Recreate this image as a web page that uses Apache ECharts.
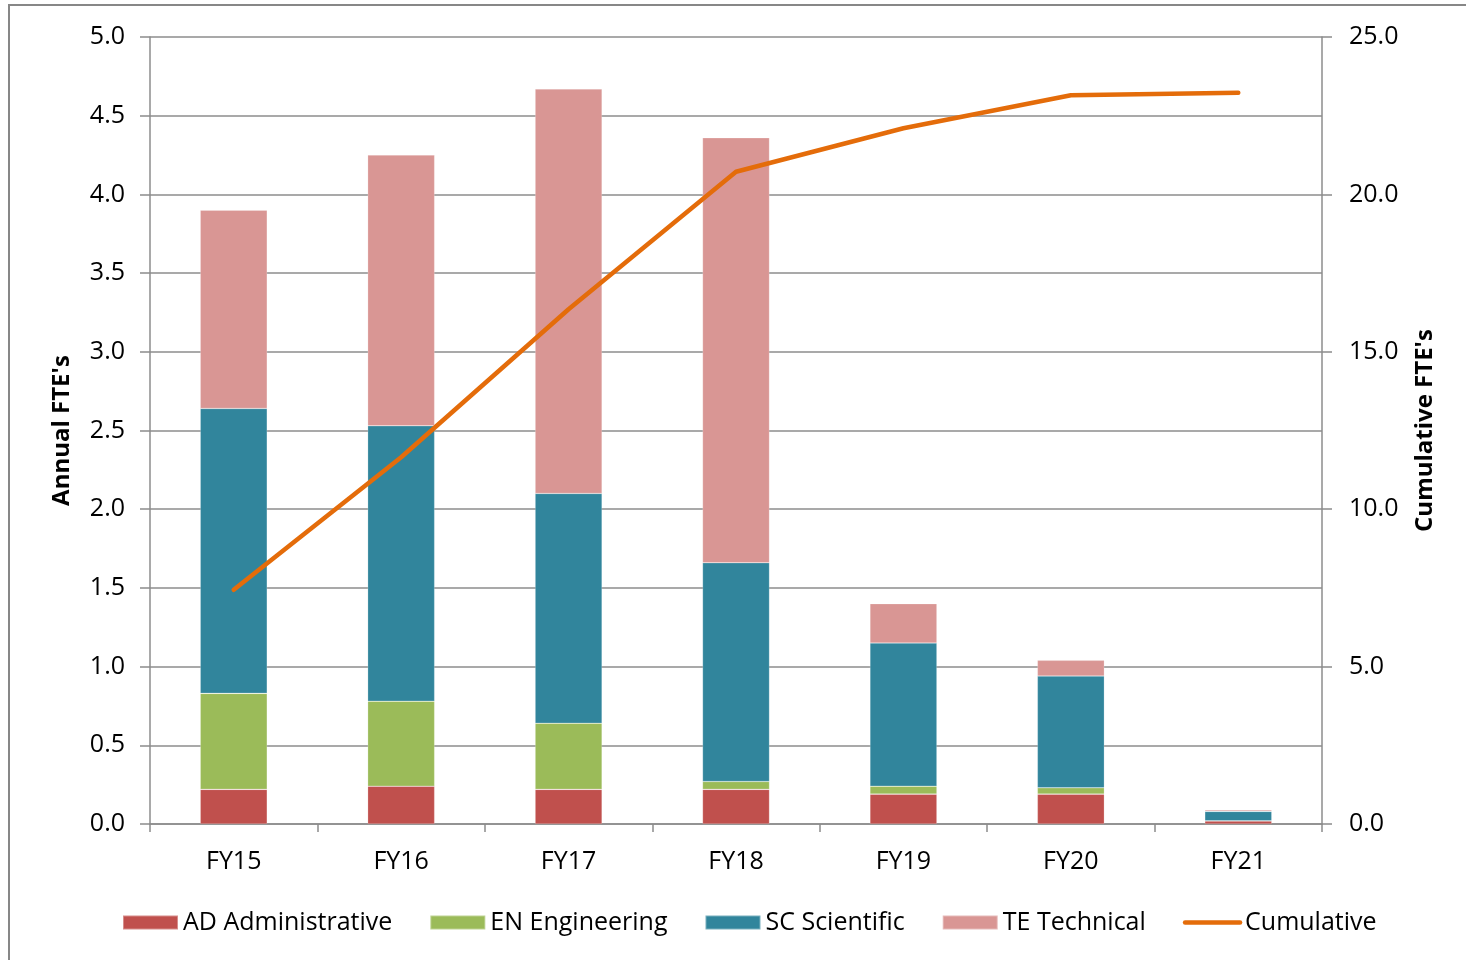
<!DOCTYPE html>
<html>
<head>
<meta charset="utf-8">
<script src="https://cdn.jsdelivr.net/npm/echarts@6/dist/echarts.min.js"></script>
<style>
  html, body { margin: 0; padding: 0; background: #fff; }
  #chart { width: 1466px; height: 960px; }
</style>
</head>
<body>
<div id="chart"></div>
<script>
// Fiscal years on the category axis
const years = ['FY15', 'FY16', 'FY17', 'FY18', 'FY19', 'FY20', 'FY21'];

// Annual FTE's by labour category (stacked)
const adminFTE = [0.22, 0.24, 0.22, 0.22, 0.19, 0.19, 0.02];
const engFTE   = [0.61, 0.54, 0.42, 0.05, 0.05, 0.04, 0.00];
const sciFTE   = [1.81, 1.75, 1.46, 1.39, 0.91, 0.71, 0.06];
const techFTE  = [1.26, 1.72, 2.57, 2.70, 0.25, 0.10, 0.01];

// Running total on the secondary axis
const cumulativeFTE = [7.44, 11.65, 16.35, 20.72, 22.10, 23.15, 23.23];

const FONT = '"Open Sans", Lato, sans-serif';
const AXIS_GRAY = '#8c8c8c';
const LINE_ORANGE = '#E46C0A';

const chart = echarts.init(document.getElementById('chart'), null, { renderer: 'canvas' });

function barSeries(name, data, color) {
  return {
    name: name,
    type: 'bar',
    stack: 'annual',
    yAxisIndex: 0,
    barWidth: 67,
    data: data,
    itemStyle: { color: color, borderColor: 'rgba(255,255,255,0.35)', borderWidth: 0.6 },
    emphasis: { disabled: true }
  };
}

chart.setOption({
  animation: false,
  backgroundColor: '#ffffff',
  textStyle: { fontFamily: FONT },
  graphic: [{
    type: 'rect',
    shape: { x: 9, y: 5, width: 1500, height: 1000 },
    style: { fill: 'none', stroke: '#878787', lineWidth: 2 },
    silent: true,
    z: -1
  }],
  grid: { left: 150, right: 144, top: 37, bottom: 136 },
  legend: {
    left: 117,
    top: 905,
    itemWidth: 55,
    itemHeight: 14,
    itemGap: 37,
    textStyle: { fontFamily: FONT, fontSize: 25, color: '#000' },
    data: [
      { name: 'AD Administrative', icon: 'rect' },
      { name: 'EN Engineering', icon: 'rect' },
      { name: 'SC Scientific', icon: 'rect' },
      { name: 'TE Technical', icon: 'rect' },
      {
        name: 'Cumulative',
        itemStyle: { color: 'rgba(0,0,0,0)', borderWidth: 0, opacity: 0 },
        lineStyle: { color: LINE_ORANGE, width: 4.5, cap: 'round' }
      }
    ]
  },
  xAxis: {
    type: 'category',
    data: years,
    boundaryGap: true,
    axisLine: { lineStyle: { color: AXIS_GRAY, width: 1.5 } },
    axisTick: { show: true, length: 8, alignWithLabel: false, lineStyle: { color: AXIS_GRAY, width: 1.5 } },
    axisLabel: { fontFamily: FONT, fontSize: 25, color: '#000', margin: 25 }
  },
  yAxis: [
    {
      type: 'value',
      min: 0, max: 5, interval: 0.5,
      position: 'left',
      name: "Annual FTE's",
      nameLocation: 'middle',
      nameRotate: 90,
      nameGap: 76,
      nameTextStyle: { fontFamily: FONT, fontSize: 24, fontWeight: 'bold', color: '#000' },
      axisLine: { show: true, lineStyle: { color: AXIS_GRAY, width: 1.5 } },
      axisTick: { show: true, length: 10, lineStyle: { color: AXIS_GRAY, width: 1.5 } },
      axisLabel: { fontFamily: FONT, fontSize: 25, color: '#000', margin: 25,
        formatter: v => v.toFixed(1) },
      splitLine: { show: true, lineStyle: { color: AXIS_GRAY, width: 1.5 } }
    },
    {
      type: 'value',
      min: 0, max: 25, interval: 5,
      position: 'right',
      name: "Cumulative FTE's",
      nameLocation: 'middle',
      nameRotate: 90,
      nameGap: 91,
      nameTextStyle: { fontFamily: FONT, fontSize: 24, fontWeight: 'bold', color: '#000' },
      axisLine: { show: true, lineStyle: { color: AXIS_GRAY, width: 1.5 } },
      axisTick: { show: true, length: 10, inside: false, lineStyle: { color: AXIS_GRAY, width: 1.5 } },
      axisLabel: { fontFamily: FONT, fontSize: 25, color: '#000', margin: 27,
        formatter: v => v.toFixed(1) },
      splitLine: { show: false }
    }
  ],
  series: [
    barSeries('AD Administrative', adminFTE, '#C0504D'),
    barSeries('EN Engineering', engFTE, '#9BBB59'),
    barSeries('SC Scientific', sciFTE, '#31859C'),
    barSeries('TE Technical', techFTE, '#D99694'),
    {
      name: 'Cumulative',
      type: 'line',
      yAxisIndex: 1,
      data: cumulativeFTE,
      symbol: 'none',
      lineStyle: { color: LINE_ORANGE, width: 4.5, cap: 'round', join: 'round' },
      itemStyle: { color: LINE_ORANGE },
      z: 5,
      emphasis: { disabled: true }
    }
  ]
});
</script>
</body>
</html>
